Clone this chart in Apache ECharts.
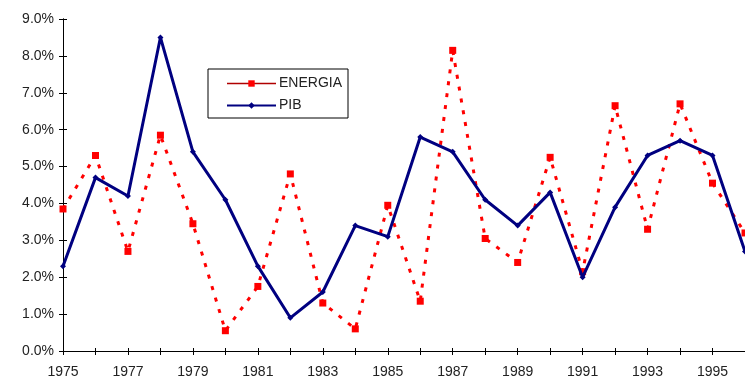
<!DOCTYPE html>
<html>
<head>
<meta charset="utf-8">
<script src="https://cdn.jsdelivr.net/npm/echarts@6/dist/echarts.min.js"></script>
<style>
  html, body { margin: 0; padding: 0; background: #fff; }
  #chart { width: 745px; height: 383px; }
</style>
</head>
<body>
<div id="chart"></div>
<script>
// Annual growth rates (%), 1975-1996
const years = ['1975','1976','1977','1978','1979','1980','1981','1982','1983','1984','1985',
               '1986','1987','1988','1989','1990','1991','1992','1993','1994','1995','1996'];
const energia = [3.85, 5.3, 2.7, 5.85, 3.45, 0.55, 1.75, 4.8, 1.3, 0.6, 3.95,
                 1.35, 8.15, 3.05, 2.4, 5.25, 2.15, 6.65, 3.3, 6.7, 4.55, 3.2];
const pib = [2.3, 4.7, 4.2, 8.5, 5.4, 4.1, 2.3, 0.9, 1.6, 3.4, 3.1,
             5.8, 5.4, 4.1, 3.4, 4.3, 2.0, 3.9, 5.3, 5.7, 5.3, 2.7];
const yMin = 0, yMax = 9, yStep = 1;

const chart = echarts.init(document.getElementById('chart'));
const fontFamily = 'Liberation Sans, Arial, sans-serif';
const axisFont = { fontFamily: fontFamily, fontSize: 14, color: '#222' };

chart.setOption({
  animation: false,
  backgroundColor: '#fff',
  grid: { left: 63, right: -6, top: 19, bottom: 32, containLabel: false },
  legend: {
    orient: 'vertical',
    left: 208, top: 69,
    padding: [7, 6, 5, 18],
    itemGap: 7,
    itemWidth: 49, itemHeight: 8,
    backgroundColor: '#fff',
    borderColor: '#000', borderWidth: 1,
    textStyle: { fontFamily: fontFamily, fontSize: 14, lineHeight: 15, color: '#222', padding: [0, 0, 0, -2] },
    data: [
      { name: 'ENERGIA', itemStyle: { color: '#ff0000' }, lineStyle: { type: 'solid', color: '#b00000', width: 1.5 } },
      { name: 'PIB', itemStyle: { color: '#000080' }, lineStyle: { type: 'solid', color: '#000080', width: 2 } }
    ]
  },
  xAxis: [{
    type: 'category',
    data: years,
    boundaryGap: false,
    axisLine: { lineStyle: { color: '#000', width: 1 } },
    axisTick: { show: true, interval: 0, length: 4, lineStyle: { color: '#000' } },
    axisLabel: Object.assign({ interval: 1, margin: 14 }, axisFont),
    splitLine: { show: false }
  }, {
    type: 'category',
    data: years,
    boundaryGap: false,
    position: 'bottom',
    axisLine: { show: true, lineStyle: { color: '#000', width: 1 } },
    axisTick: { show: true, inside: true, interval: 0, length: 3, lineStyle: { color: '#000' } },
    axisLabel: { show: false },
    splitLine: { show: false }
  }],
  yAxis: [{
    type: 'value',
    min: yMin, max: yMax, interval: yStep,
    axisLine: { show: true, lineStyle: { color: '#000', width: 1 } },
    axisTick: { show: true, length: 4, lineStyle: { color: '#000' } },
    axisLabel: Object.assign({ margin: 9, formatter: v => v.toFixed(1) + '%' }, axisFont),
    splitLine: { show: false }
  }, {
    type: 'value',
    min: yMin, max: yMax, interval: yStep,
    position: 'left',
    offset: 0,
    axisLine: { show: true, lineStyle: { color: '#000', width: 1 } },
    axisTick: { show: true, inside: true, length: 4, lineStyle: { color: '#000' } },
    axisLabel: { show: false },
    splitLine: { show: false }
  }],
  series: [
    {
      name: 'ENERGIA',
      type: 'line',
      data: energia,
      symbol: 'rect',
      symbolSize: 7,
      itemStyle: { color: '#ff0000' },
      lineStyle: { color: '#ff0000', width: 3, type: [4, 8] },
      z: 2
    },
    {
      name: 'PIB',
      type: 'line',
      data: pib,
      symbol: 'diamond',
      symbolSize: 6,
      itemStyle: { color: '#000080' },
      lineStyle: { color: '#000080', width: 3 },
      z: 3
    }
  ]
});
</script>
</body>
</html>
